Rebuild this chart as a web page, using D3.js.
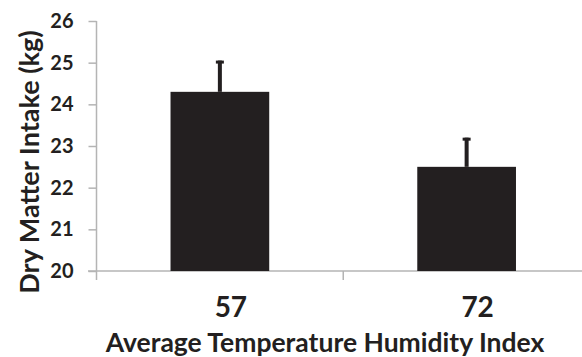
<!DOCTYPE html>
<html>
<head>
<meta charset="utf-8">
<script src="https://cdn.jsdelivr.net/npm/d3@7"></script>
<style>
  html, body { margin: 0; padding: 0; background: #fff; }
  svg { display: block; }
  text { font-family: Lato, "Open Sans", sans-serif; font-weight: bold; fill: #231f20; }
</style>
</head>
<body>
<svg id="chart" width="582" height="357"></svg>
<script>
// Dry matter intake by average temperature-humidity index
const categories = ["57", "72"];
const intake = [24.3, 22.5];
const errorTop = [25.05, 23.2];
const yTicks = [20, 21, 22, 23, 24, 25, 26];

const svg = d3.select("#chart");
const axisColor = "#b4b4b4";
const barColor = "#231f20";

const x = d3.scaleBand().domain(categories).range([96.5, 590]).paddingInner(0).paddingOuter(0);
const y = d3.scaleLinear().domain([20, 26]).range([271, 21]);
const barW = x.bandwidth() * 0.4;

// y axis
const yAxis = svg.append("g").attr("transform", "translate(96.5,0)")
  .call(d3.axisLeft(y).tickValues(yTicks).tickSize(8).tickPadding(15).tickFormat(d3.format("d")));
yAxis.select(".domain").remove();
yAxis.selectAll(".tick line").attr("stroke", axisColor).attr("stroke-width", 1.5);
yAxis.selectAll(".tick text").attr("font-size", 20).attr("fill", "#231f20")
  .attr("font-family", "Lato, sans-serif").attr("font-weight", "900");
yAxis.append("line").attr("x1", 0).attr("x2", 0).attr("y1", y(26)).attr("y2", y(20) + 9)
  .attr("stroke", axisColor).attr("stroke-width", 1.5);

// x axis baseline and category boundary ticks
svg.append("line").attr("x1", 88).attr("x2", 582).attr("y1", y(20)).attr("y2", y(20))
  .attr("stroke", axisColor).attr("stroke-width", 1.5);
svg.selectAll(".xtick").data(categories.slice(1)).enter().append("line")
  .attr("x1", d => x(d)).attr("x2", d => x(d))
  .attr("y1", y(20)).attr("y2", y(20) + 9)
  .attr("stroke", axisColor).attr("stroke-width", 1.5);

// bars
svg.selectAll(".bar").data(categories).enter().append("rect")
  .attr("x", d => x(d) + x.bandwidth() / 2 - barW / 2)
  .attr("width", barW)
  .attr("y", (d, i) => y(intake[i]))
  .attr("height", (d, i) => y(20) - y(intake[i]))
  .attr("fill", barColor);

// upper error bars
const eb = svg.selectAll(".err").data(categories).enter().append("g");
eb.append("rect")
  .attr("x", d => x(d) + x.bandwidth() / 2 - 2)
  .attr("width", 4)
  .attr("y", (d, i) => y(errorTop[i]))
  .attr("height", (d, i) => y(intake[i]) - y(errorTop[i]))
  .attr("fill", barColor);
eb.append("rect")
  .attr("x", d => x(d) + x.bandwidth() / 2 - 4)
  .attr("width", 8)
  .attr("y", (d, i) => y(errorTop[i]))
  .attr("height", 3)
  .attr("fill", barColor);

// category labels
svg.selectAll(".xlab").data(categories).enter().append("text")
  .attr("x", d => x(d) + x.bandwidth() / 2 + 11)
  .attr("y", 317)
  .attr("text-anchor", "middle")
  .attr("font-size", 28)
  .text(d => d);

// axis titles
svg.append("text")
  .attr("x", 325).attr("y", 352)
  .attr("text-anchor", "middle")
  .attr("font-size", 26.5)
  .text("Average Temperature Humidity Index");

svg.append("text")
  .attr("transform", "translate(39,162) rotate(-90)")
  .attr("text-anchor", "middle")
  .attr("font-size", 27)
  .text("Dry Matter Intake (kg)");
</script>
</body>
</html>
